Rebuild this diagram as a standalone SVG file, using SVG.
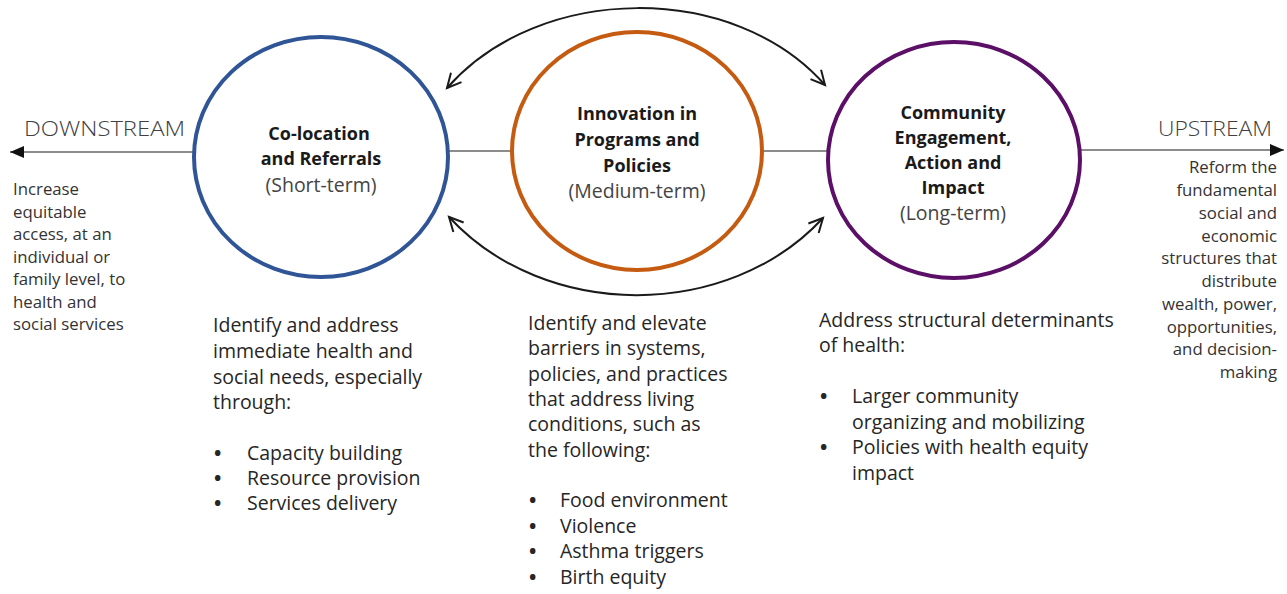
<svg xmlns="http://www.w3.org/2000/svg" width="1287" height="594" viewBox="0 0 1287 594">
<style>
text{font-family:"Open Sans","Noto Sans","Liberation Sans",sans-serif;fill:#262626}
.body{font-size:19.5px}
.bul{font-size:19.5px;font-weight:700}
.side{font-size:16.8px;fill:#333}
.title{font-size:18px;font-weight:700;text-anchor:middle;fill:#1a1a1a}
.sub{font-size:19.5px;text-anchor:middle;fill:#444}
.dir{font-size:21px;fill:#404040;font-weight:300}
.ring{fill:#fff;stroke-width:4}
.axis{stroke:#666;stroke-width:1.6;fill:none}
.arc{stroke:#1a1a1a;stroke-width:2;fill:none;marker-start:url(#chev);marker-end:url(#chev)}
</style>
<defs>
<marker id="chev" markerUnits="userSpaceOnUse" markerWidth="20" markerHeight="20" refX="15" refY="8" orient="auto-start-reverse">
<path d="M1,1 L15,8 L1,15" fill="none" stroke="#1a1a1a" stroke-width="2"/>
</marker>
<marker id="tri" markerUnits="userSpaceOnUse" markerWidth="16" markerHeight="14" refX="14" refY="6" orient="auto">
<path d="M0,0 L14,6 L0,12 Z" fill="#111"/>
</marker>
</defs>
<g id="connectors">
<line class="axis" x1="193" y1="152" x2="10" y2="152" marker-end="url(#tri)"/>
<line class="axis" x1="449" y1="151" x2="512" y2="151"/>
<line class="axis" x1="763" y1="151" x2="828" y2="151"/>
<line class="axis" x1="1080" y1="150" x2="1284" y2="150" marker-end="url(#tri)"/>
<path class="arc" d="M447,88 C540,-18 735,-18 825,85"/>
<path class="arc" d="M449,217 C545,321 728,321 823,218"/>
</g>
<g id="node-downstream">
<text class="dir" x="24" y="136" textLength="161" lengthAdjust="spacingAndGlyphs">DOWNSTREAM</text>
<text class="side" x="13" y="195">Increase</text>
<text class="side" x="13" y="217.5">equitable</text>
<text class="side" x="13" y="240">access, at an</text>
<text class="side" x="13" y="262.5">individual or</text>
<text class="side" x="13" y="285">family level, to</text>
<text class="side" x="13" y="307.5">health and</text>
<text class="side" x="13" y="330">social services</text>
</g>
<g id="node-upstream">
<text class="dir" x="1158" y="136" textLength="114" lengthAdjust="spacingAndGlyphs">UPSTREAM</text>
<g style="text-anchor:end">
<text class="side" x="1277" y="173">Reform the</text>
<text class="side" x="1277" y="196">fundamental</text>
<text class="side" x="1277" y="219">social and</text>
<text class="side" x="1277" y="241.5">economic</text>
<text class="side" x="1277" y="264">structures that</text>
<text class="side" x="1277" y="287">distribute</text>
<text class="side" x="1277" y="310">wealth, power,</text>
<text class="side" x="1277" y="332.5">opportunities,</text>
<text class="side" x="1277" y="355">and decision-</text>
<text class="side" x="1277" y="378">making</text>
</g>
</g>
<g id="node-short">
<ellipse class="ring" cx="321" cy="157" rx="127" ry="120" stroke="#2F5597"/>
<text class="title" x="319" y="140">Co-location</text>
<text class="title" x="321" y="165">and Referrals</text>
<text class="sub" x="321" y="192">(Short-term)</text>
</g>
<g id="node-medium">
<ellipse class="ring" cx="637" cy="151" rx="125" ry="119" stroke="#C55A11"/>
<text class="title" x="637" y="120">Innovation in</text>
<text class="title" x="637" y="146">Programs and</text>
<text class="title" x="637" y="172">Policies</text>
<text class="sub" x="637" y="198">(Medium-term)</text>
</g>
<g id="node-long">
<ellipse class="ring" cx="954" cy="160" rx="126" ry="118" stroke="#5B0F67"/>
<text class="title" x="953" y="119">Community</text>
<text class="title" x="953" y="144">Engagement,</text>
<text class="title" x="953" y="169">Action and</text>
<text class="title" x="953" y="194">Impact</text>
<text class="sub" x="953" y="220">(Long-term)</text>
</g>
<g id="node-short-detail">
<text class="body" x="213" y="332">Identify and address</text>
<text class="body" x="213" y="358">immediate health and</text>
<text class="body" x="213" y="384">social needs, especially</text>
<text class="body" x="213" y="409">through:</text>
<text class="bul" x="214" y="460">•</text><text class="body" x="247" y="460">Capacity building</text>
<text class="bul" x="214" y="485">•</text><text class="body" x="247" y="485">Resource provision</text>
<text class="bul" x="214" y="510">•</text><text class="body" x="247" y="510">Services delivery</text>
</g>
<g id="node-medium-detail">
<text class="body" x="528" y="330">Identify and elevate</text>
<text class="body" x="528" y="355">barriers in systems,</text>
<text class="body" x="528" y="381">policies, and practices</text>
<text class="body" x="528" y="406">that address living</text>
<text class="body" x="528" y="431">conditions, such as</text>
<text class="body" x="528" y="457">the following:</text>
<text class="bul" x="529" y="507">•</text><text class="body" x="560" y="507">Food environment</text>
<text class="bul" x="529" y="533">•</text><text class="body" x="560" y="533">Violence</text>
<text class="bul" x="529" y="558">•</text><text class="body" x="560" y="558">Asthma triggers</text>
<text class="bul" x="529" y="584">•</text><text class="body" x="560" y="584">Birth equity</text>
</g>
<g id="node-long-detail">
<text class="body" x="819" y="327">Address structural determinants</text>
<text class="body" x="819" y="352">of health:</text>
<text class="bul" x="820" y="403">•</text><text class="body" x="852" y="403">Larger community</text>
<text class="body" x="852" y="429">organizing and mobilizing</text>
<text class="bul" x="820" y="454">•</text><text class="body" x="852" y="454">Policies with health equity</text>
<text class="body" x="852" y="480">impact</text>
</g>
</svg>
